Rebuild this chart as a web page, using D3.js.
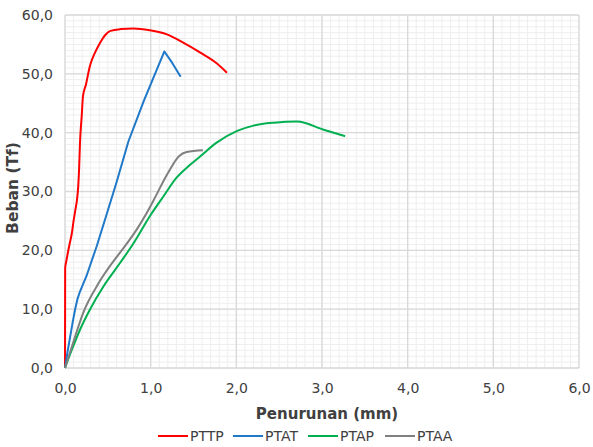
<!DOCTYPE html>
<html>
<head>
<meta charset="utf-8">
<script src="https://cdn.jsdelivr.net/npm/d3@7"></script>
<style>
  body { margin: 0; background: #fff; }
  text { font-family: "DejaVu Sans", "Open Sans", sans-serif; fill: #404040; }
</style>
</head>
<body>
<svg id="chart"></svg>
<script>
// series: [penurunan (mm), beban (Tf)]
const pttp = [[0,0],[0.002,17],[0.02,18.5],[0.04,20.1],[0.06,21.5],[0.08,22.9],[0.1,25],[0.12,26.8],[0.14,28.6],[0.155,31],[0.165,34],[0.175,38.3],[0.195,42.8],[0.21,46.2],[0.245,48.2],[0.29,51.3],[0.35,53.6],[0.41,55.3],[0.47,56.6],[0.53,57.3],[0.65,57.6],[0.8,57.7],[0.99,57.4],[1.19,56.7],[1.38,55.3],[1.58,53.6],[1.77,51.8],[1.89,50.2]];
const ptat = [[0,0],[0.03,2.8],[0.06,5.3],[0.09,7.8],[0.117,9.9],[0.145,11.7],[0.175,13.0],[0.25,15.6],[0.37,20.7],[0.49,26.3],[0.6,31.5],[0.74,38.5],[0.92,45.4],[1.16,53.8],[1.25,51.9],[1.35,49.5]];
const ptap = [[0,0],[0.08,3.1],[0.175,6.5],[0.29,9.9],[0.45,13.9],[0.64,17.8],[0.8,21.2],[0.99,25.8],[1.15,29.2],[1.3,32.3],[1.45,34.4],[1.58,36.0],[1.77,38.3],[2.01,40.3],[2.2,41.2],[2.44,41.7],[2.71,41.9],[3.02,40.5],[3.27,39.4]];
const ptaa = [[0,0],[0.117,5.3],[0.21,9.3],[0.4,14.6],[0.62,19.2],[0.73,21.3],[0.84,23.6],[0.94,26.0],[1.03,28.4],[1.2,33.1],[1.33,36.0],[1.42,36.7],[1.61,37.0]];
const seriesNames = ["PTTP", "PTAT", "PTAP", "PTAA"];
const seriesColors = ["#ff0000", "#1f78c8", "#00b050", "#808080"];
const seriesData = [pttp, ptat, ptap, ptaa];
const xTicks = [0, 1, 2, 3, 4, 5, 6];
const yTicks = [0, 10, 20, 30, 40, 50, 60];

const width = 593, height = 447;
const svg = d3.select("#chart").attr("width", width).attr("height", height);

const x = d3.scaleLinear().domain([0, 6]).range([65, 579]);
const y = d3.scaleLinear().domain([0, 60]).range([368, 15]);
const fmt = v => d3.format(".1f")(v).replace(".", ",");

// minor grid
const grid = svg.append("g");
grid.selectAll(".vminor").data(d3.range(0, 60.5).map(i => i / 10)).enter()
    .append("line")
    .attr("x1", d => x(d)).attr("x2", d => x(d))
    .attr("y1", y(0)).attr("y2", y(60))
    .attr("stroke", "#eeeeee").attr("stroke-width", 1);
grid.selectAll(".hminor").data(d3.range(0, 61)).enter()
    .append("line")
    .attr("x1", x(0)).attr("x2", x(6))
    .attr("y1", d => y(d)).attr("y2", d => y(d))
    .attr("stroke", "#eeeeee").attr("stroke-width", 1);

// major grid
grid.selectAll(".vmajor").data(xTicks).enter()
    .append("line")
    .attr("x1", d => x(d)).attr("x2", d => x(d))
    .attr("y1", y(0)).attr("y2", y(60))
    .attr("stroke", "#d9d9d9").attr("stroke-width", 1.3);
grid.selectAll(".hmajor").data(yTicks).enter()
    .append("line")
    .attr("x1", x(0)).attr("x2", x(6))
    .attr("y1", d => y(d)).attr("y2", d => y(d))
    .attr("stroke", "#d9d9d9").attr("stroke-width", 1.3);

// axes (labels only)
const xAxis = svg.append("g")
    .attr("transform", `translate(0, ${y(0)})`)
    .call(d3.axisBottom(x).tickValues(xTicks).tickFormat(fmt).tickSize(0).tickPadding(15));
const yAxis = svg.append("g")
    .attr("transform", `translate(${x(0)}, 0)`)
    .call(d3.axisLeft(y).tickValues(yTicks).tickFormat(fmt).tickSize(0).tickPadding(12));
[xAxis, yAxis].forEach(a => {
    a.select(".domain").remove();
    a.selectAll("text").attr("font-size", "14px").attr("fill", "#404040")
        .attr("font-family", null);
});

// lines (PTAT has a sharp peak -> straight segments)
const smooth = d3.line().x(d => x(d[0])).y(d => y(d[1])).curve(d3.curveMonotoneX);
const straight = d3.line().x(d => x(d[0])).y(d => y(d[1]));
seriesData.forEach((s, i) => {
    svg.append("path")
        .datum(s)
        .attr("d", i === 1 ? straight : smooth)
        .attr("fill", "none")
        .attr("stroke", seriesColors[i])
        .attr("stroke-width", 2)
        .attr("stroke-linejoin", "round");
});

// axis titles
svg.append("text")
    .attr("x", 327).attr("y", 419)
    .attr("text-anchor", "middle")
    .attr("font-size", "15px").attr("font-weight", "bold").attr("fill", "#000")
    .text("Penurunan (mm)");
svg.append("text")
    .attr("transform", "translate(18, 188) rotate(-90)")
    .attr("text-anchor", "middle")
    .attr("font-size", "15.5px").attr("font-weight", "bold").attr("fill", "#000")
    .text("Beban (Tf)");

// legend
const legendX = [158, 233, 308, 385];
const legend = svg.append("g");
seriesNames.forEach((name, i) => {
    legend.append("line")
        .attr("x1", legendX[i]).attr("x2", legendX[i] + 30)
        .attr("y1", 436).attr("y2", 436)
        .attr("stroke", seriesColors[i]).attr("stroke-width", 2);
    legend.append("text")
        .attr("x", legendX[i] + 32).attr("y", 441)
        .attr("font-size", "14px").attr("fill", "#404040")
        .text(name);
});
</script>
</body>
</html>
